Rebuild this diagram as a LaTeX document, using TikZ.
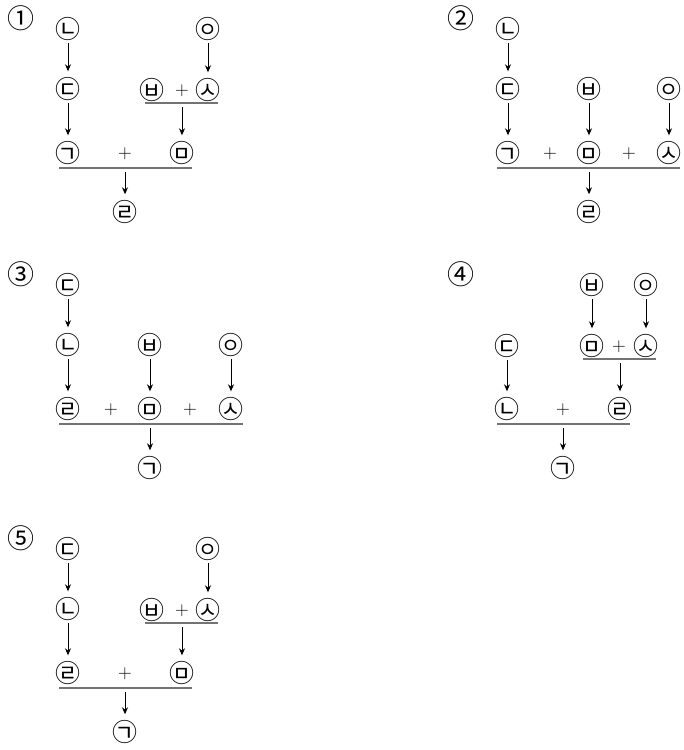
\documentclass[tikz,border=0pt]{standalone}
\usepackage{fontspec}
\newfontfamily\kr{Noto Sans CJK KR}
\usetikzlibrary{arrows.meta}
\newcommand\CJ[1]{\makebox[0pt]{\raisebox{-0.38em}[0pt][0pt]{#1}}}
\tikzset{
  jm/.style={circle, inner sep=0pt, minimum size=23pt, font=\kr\fontsize{25}{25}\selectfont},
  num/.style={inner sep=0pt, font=\kr\fontsize{27}{27}\selectfont},
  pl/.style={inner sep=0pt, font=\fontsize{19}{19}\selectfont},
  arr/.style={draw, -{Stealth[length=7pt,width=6pt]}, line width=1pt, shorten <=2.5pt, shorten >=6pt},
  barr/.style={draw, -{Stealth[length=7pt,width=6pt]}, line width=1pt, shorten <=4pt, shorten >=6pt},
  bar/.style={draw=black!55, line width=1.8pt}
}
\begin{document}
\begin{tikzpicture}[x=1pt,y=-1pt]
\useasboundingbox (0,0) rectangle (684,750);
% ---------- Panel 1 ----------
\node[num] (q1) at (21,18) {\CJ{①}};
\node[jm] (a1) at (68,29) {\CJ{㉡}};
\node[jm] (a2) at (208,29) {\CJ{㉧}};
\node[jm] (a3) at (68,89) {\CJ{㉢}};
\node[jm] (a4) at (152,90) {\CJ{㉥}};
\node[pl] (a5) at (182,91) {+};
\node[jm] (a6) at (208,90) {\CJ{㉦}};
\coordinate (a7) at (145,103); \coordinate (a8) at (218,103); \coordinate (a9) at (182,103);
\node[jm] (a10) at (68,153) {\CJ{㉠}};
\node[pl] (a11) at (125,154) {+};
\node[jm] (a12) at (182,153) {\CJ{㉤}};
\coordinate (a13) at (59,168); \coordinate (a14) at (192,168); \coordinate (a15) at (125,168);
\node[jm] (a16) at (125,212) {\CJ{㉣}};
\draw[bar] (a7) -- (a8);
\draw[bar] (a13) -- (a14);
\draw[arr] (a1) -- (a3);
\draw[arr] (a3) -- (a10);
\draw[arr] (a2) -- (a6);
\draw[barr] (a9) -- (a12);
\draw[barr] (a15) -- (a16);
% ---------- Panel 2 ----------
\node[num] (q2) at (461,18) {\CJ{②}};
\node[jm] (b1) at (508,29) {\CJ{㉡}};
\node[jm] (b2) at (508,89) {\CJ{㉢}};
\node[jm] (b3) at (589,89) {\CJ{㉥}};
\node[jm] (b4) at (669,89) {\CJ{㉧}};
\node[jm] (b5) at (508,153) {\CJ{㉠}};
\node[pl] (b6) at (550,154) {+};
\node[jm] (b7) at (589,153) {\CJ{㉤}};
\node[pl] (b8) at (629,154) {+};
\node[jm] (b9) at (669,153) {\CJ{㉦}};
\coordinate (b10) at (497,168); \coordinate (b11) at (680,168); \coordinate (b12) at (589,168);
\node[jm] (b13) at (589,212) {\CJ{㉣}};
\draw[bar] (b10) -- (b11);
\draw[arr] (b1) -- (b2);
\draw[arr] (b2) -- (b5);
\draw[arr] (b3) -- (b7);
\draw[arr] (b4) -- (b9);
\draw[barr] (b12) -- (b13);
% ---------- Panel 3 ----------
\node[num] (q3) at (21,274) {\CJ{③}};
\node[jm] (c1) at (68,285) {\CJ{㉢}};
\node[jm] (c2) at (68,345) {\CJ{㉡}};
\node[jm] (c3) at (150,345) {\CJ{㉥}};
\node[jm] (c4) at (231,345) {\CJ{㉧}};
\node[jm] (c5) at (68,409) {\CJ{㉣}};
\node[pl] (c6) at (111,410) {+};
\node[jm] (c7) at (150,409) {\CJ{㉤}};
\node[pl] (c8) at (190,410) {+};
\node[jm] (c9) at (231,409) {\CJ{㉦}};
\coordinate (c10) at (59,424); \coordinate (c11) at (243,424); \coordinate (c12) at (150,424);
\node[jm] (c13) at (150,468) {\CJ{㉠}};
\draw[bar] (c10) -- (c11);
\draw[arr] (c1) -- (c2);
\draw[arr] (c2) -- (c5);
\draw[arr] (c3) -- (c7);
\draw[arr] (c4) -- (c9);
\draw[barr] (c12) -- (c13);
% ---------- Panel 4 ----------
\node[num] (q4) at (461,274) {\CJ{④}};
\node[jm] (d1) at (592,285) {\CJ{㉥}};
\node[jm] (d2) at (646,285) {\CJ{㉧}};
\node[jm] (d3) at (507,346) {\CJ{㉢}};
\node[jm] (d4) at (592,346) {\CJ{㉤}};
\node[pl] (d5) at (619,347) {+};
\node[jm] (d6) at (646,346) {\CJ{㉦}};
\coordinate (d7) at (583,359); \coordinate (d8) at (656,359); \coordinate (d9) at (620,359);
\node[jm] (d10) at (507,409) {\CJ{㉡}};
\node[pl] (d11) at (563,410) {+};
\node[jm] (d12) at (620,409) {\CJ{㉣}};
\coordinate (d13) at (497,424); \coordinate (d14) at (630,424); \coordinate (d15) at (563,424);
\node[jm] (d16) at (563,468) {\CJ{㉠}};
\draw[bar] (d7) -- (d8);
\draw[bar] (d13) -- (d14);
\draw[arr] (d1) -- (d4);
\draw[arr] (d2) -- (d6);
\draw[arr] (d3) -- (d10);
\draw[barr] (d9) -- (d12);
\draw[barr] (d15) -- (d16);
% ---------- Panel 5 ----------
\node[num] (q5) at (21,538) {\CJ{⑤}};
\node[jm] (e1) at (68,549) {\CJ{㉢}};
\node[jm] (e2) at (208,549) {\CJ{㉧}};
\node[jm] (e3) at (68,609) {\CJ{㉡}};
\node[jm] (e4) at (152,610) {\CJ{㉥}};
\node[pl] (e5) at (182,611) {+};
\node[jm] (e6) at (208,610) {\CJ{㉦}};
\coordinate (e7) at (145,623); \coordinate (e8) at (218,623); \coordinate (e9) at (182,623);
\node[jm] (e10) at (68,673) {\CJ{㉣}};
\node[pl] (e11) at (125,674) {+};
\node[jm] (e12) at (182,673) {\CJ{㉤}};
\coordinate (e13) at (59,688); \coordinate (e14) at (192,688); \coordinate (e15) at (125,688);
\node[jm] (e16) at (125,732) {\CJ{㉠}};
\draw[bar] (e7) -- (e8);
\draw[bar] (e13) -- (e14);
\draw[arr] (e1) -- (e3);
\draw[arr] (e3) -- (e10);
\draw[arr] (e2) -- (e6);
\draw[barr] (e9) -- (e12);
\draw[barr] (e15) -- (e16);
\end{tikzpicture}
\end{document}
